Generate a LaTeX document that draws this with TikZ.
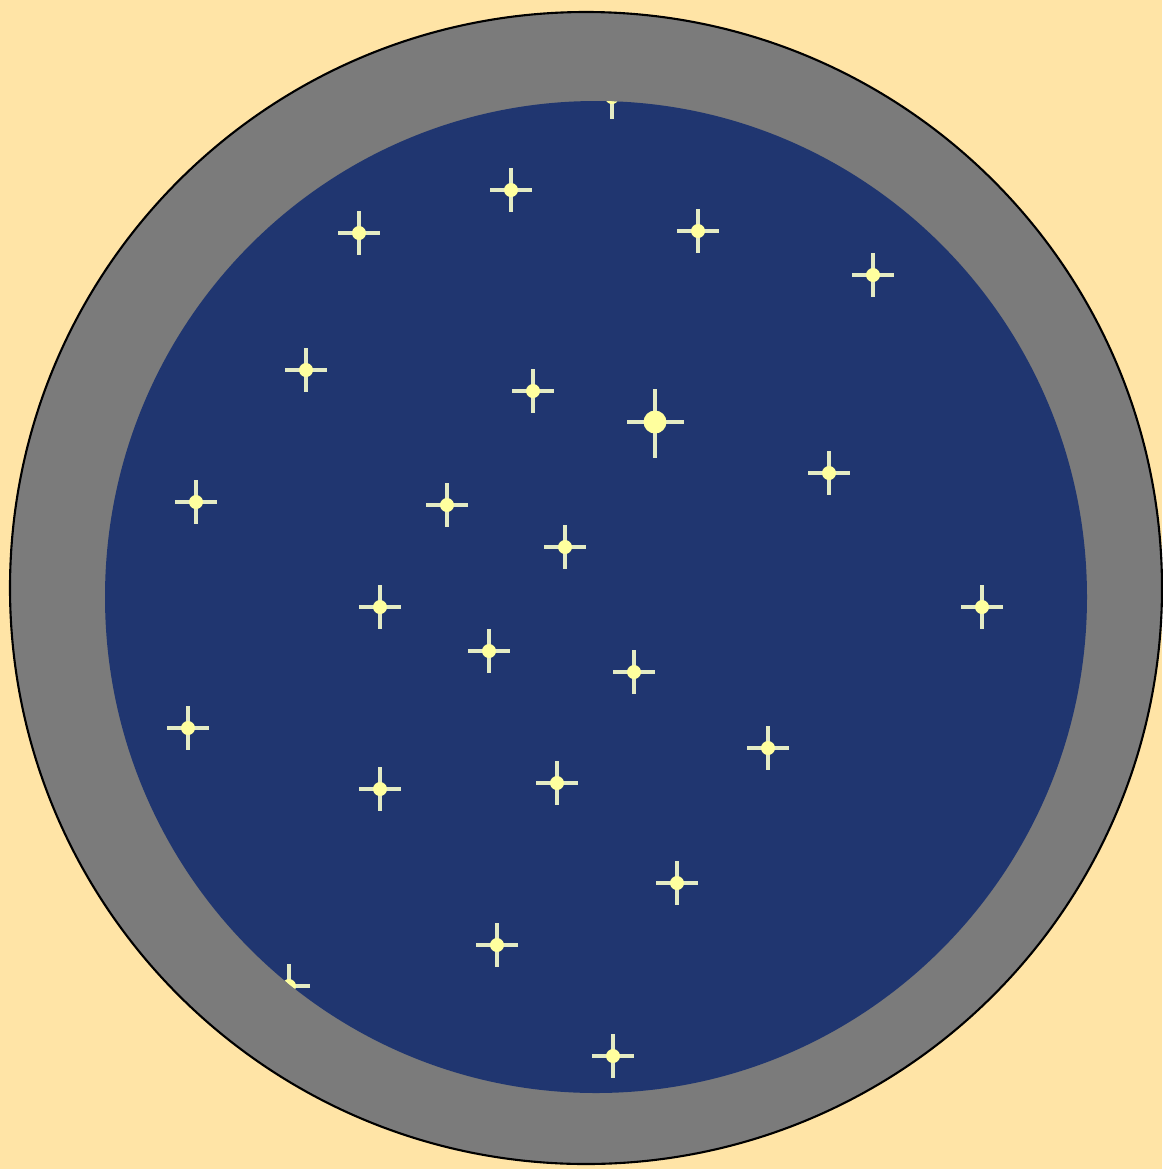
\documentclass[tikz,border=0pt]{standalone}
\usepackage{xcolor}
\usepackage{tikz}

\definecolor{sand}{HTML}{FFE4A6}
\definecolor{rimgray}{HTML}{7B7B7B}
\definecolor{skyblue}{HTML}{203670}
\definecolor{glow}{HTML}{FFFF9E}
\definecolor{ray}{HTML}{E4EBC4}

\begin{document}
\begin{tikzpicture}[
		x=0.01cm, y=-0.01cm,
		rim/.style={fill=rimgray, draw=black, line width=0.6pt},
		sky/.style={fill=skyblue},
		spark/.pic={
			\draw[ray, line width=1pt] (-21,0) -- (21,0) (0,-22) -- (0,22);
			\fill[glow] (0,0) circle (7);
		},
		bigspark/.pic={
			\draw[ray, line width=1.1pt] (-28,0) -- (29,0) (0,-33) -- (0,36);
			\fill[glow] (0,0) circle (11.5);
		}
		]
		
		% Background
		\fill[sand] (0,0) rectangle (1162,1169);
		\useasboundingbox (0,0) rectangle (1162,1169);
		
		% Lens rim and sky
		\draw[rim] (586,588) circle (576);
		\fill[sky] (596,597) ellipse (491 and 496);
		
		% Stars
		\begin{scope}
			\clip (596,597) ellipse (491 and 496);
			\foreach \sx/\sy in {612/97, 511/190, 359/233, 698/231, 873/275,
				306/370, 533/391, 829/473, 196/502, 447/505, 565/547,
				380/607, 982/607, 489/651, 634/672, 188/728, 768/748,
				380/789, 557/783, 677/883, 497/945, 289/986, 613/1056}
				\pic at (\sx,\sy) {spark};
			\pic at (655,422) {bigspark};
		\end{scope}
		
	\end{tikzpicture}
\end{document}
